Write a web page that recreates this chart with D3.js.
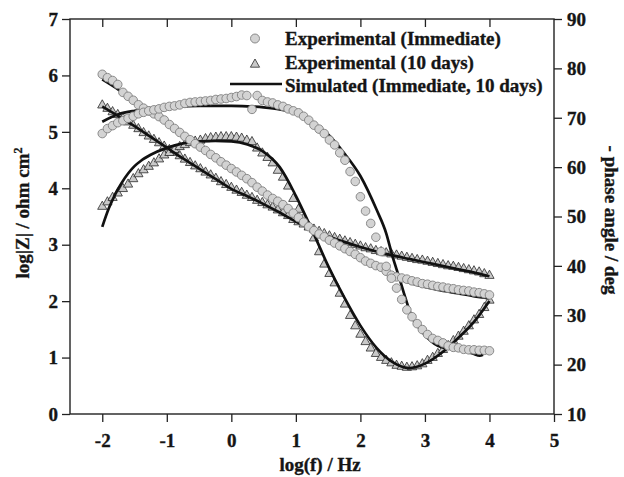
<!DOCTYPE html>
<html><head><meta charset="utf-8">
<script src="https://cdn.jsdelivr.net/npm/d3@7"></script>
<style>
body{margin:0;background:#fff}
svg{display:block}
text{font-family:"Liberation Serif","Times New Roman",serif;font-weight:bold;fill:#151515;stroke:#151515;stroke-width:0.35px}
</style>
</head><body>
<svg id="chart" width="624" height="477"></svg>
<script>
// ---- data ----
const logF = [-2.00,-1.92,-1.84,-1.76,-1.68,-1.60,-1.52,-1.44,-1.36,-1.28,-1.20,-1.12,-1.04,-0.96,-0.88,-0.80,-0.72,-0.64,-0.56,-0.48,-0.40,-0.32,-0.24,-0.16,-0.08,
  0.00,0.08,0.16,0.24,0.32,0.40,0.48,0.56,0.64,0.72,0.80,0.88,0.96,1.04,1.12,1.20,1.28,1.36,1.44,1.52,1.60,1.68,1.76,1.84,1.92,2.00,
  2.08,2.16,2.24,2.32,2.40,2.48,2.56,2.64,2.72,2.80,2.88,2.96,3.04,3.12,3.20,3.28,3.36,3.44,3.52,3.60,3.68,3.76,3.84,3.92,4.00];

// Experimental (Immediate): log|Z| and -phase (deg)
const zImmediate = [6.02,5.96,5.91,5.84,5.70,5.63,5.56,5.48,5.42,5.37,5.32,5.27,5.21,5.13,5.06,4.99,4.92,4.86,4.79,4.73,4.67,4.60,4.54,4.47,4.41,
  4.35,4.29,4.23,4.17,4.10,4.02,3.95,3.88,3.82,3.77,3.71,3.64,3.56,3.48,3.40,3.32,3.25,3.19,3.14,3.08,3.03,2.98,2.93,2.88,2.83,2.77,
  2.71,2.67,2.63,2.60,2.53,2.46,2.43,2.41,2.39,2.36,2.34,2.31,2.30,2.28,2.26,2.25,2.23,2.22,2.20,2.19,2.18,2.16,2.15,2.13,2.11];
const phaseImmediate = [66.8,67.8,68.4,69.0,69.4,69.9,70.3,70.8,71.1,71.4,71.6,71.8,72.1,72.3,72.4,72.6,72.9,73.1,73.2,73.3,73.4,73.5,73.7,73.8,73.9,
  74.1,74.3,74.6,74.5,71.7,74.5,73.5,73.2,73.0,72.6,72.3,71.8,71.4,71.0,70.3,69.5,68.5,67.7,66.8,65.5,64.5,62.9,61.4,59.1,57.1,54.0,
  51.1,48.6,45.8,42.9,39.9,37.5,35.5,33.2,31.1,29.7,28.3,27.1,26.1,25.3,24.9,24.4,23.8,23.5,23.4,23.1,23.0,23.0,22.9,22.9,22.8];

// Experimental (10 days)
const zTenDays = [5.48,5.42,5.36,5.31,5.25,5.18,5.12,5.06,4.99,4.93,4.87,4.81,4.75,4.69,4.64,4.58,4.52,4.46,4.40,4.35,4.29,4.24,4.18,4.12,4.07,
  4.02,3.97,3.93,3.88,3.84,3.79,3.75,3.71,3.67,3.62,3.57,3.52,3.45,3.41,3.37,3.33,3.28,3.24,3.20,3.16,3.13,3.10,3.07,3.04,3.01,2.98,
  2.95,2.93,2.90,2.88,2.86,2.84,2.82,2.80,2.78,2.76,2.74,2.73,2.71,2.69,2.67,2.65,2.63,2.62,2.60,2.58,2.56,2.54,2.52,2.49,2.46];
const phaseTenDays = [52.1,53.0,53.9,54.8,55.7,56.6,57.7,58.7,59.5,60.2,60.9,61.7,62.5,63.0,63.6,64.2,64.6,65.0,65.3,65.5,65.8,66.0,66.1,66.2,66.2,
  66.2,66.1,65.9,65.5,65.2,63.9,62.9,62.0,60.9,59.4,58.0,56.2,53.7,51.5,49.7,47.9,45.7,42.9,40.4,38.5,36.6,34.5,32.3,30.0,27.9,26.2,
  24.7,23.4,22.3,21.5,20.9,20.4,19.9,19.7,19.5,19.6,19.8,20.2,20.9,21.5,22.3,23.1,23.9,24.9,25.8,26.8,27.9,29.1,30.2,31.6,33.1];

// Simulated curves
const simZImmF = [-2.0,-1.75,-1.5,-1.25,-1.0,-0.75,-0.5,-0.25,0.0,0.25,0.5,0.75,1.0,1.25,1.5,1.75,2.0,2.25,2.5,2.75,3.0,3.25,3.5,3.75,4.0];
const simZImm  = [5.93,5.75,5.55,5.35,5.15,4.94,4.74,4.54,4.34,4.14,3.93,3.72,3.51,3.29,3.10,2.94,2.77,2.61,2.45,2.33,2.25,2.19,2.14,2.09,2.05];
const simPhImmF = [-2.0,-1.75,-1.5,-1.25,-1.0,-0.75,-0.5,-0.25,0.0,0.25,0.5,0.75,1.0,1.25,1.5,1.75,2.0,2.25,2.4,2.5,2.6,2.7,2.8,2.9,3.0,3.1,3.2,3.3,3.4,3.45,3.52,3.58,3.65,3.75,3.85,3.9];
const simPhImm  = [69.2,70.7,71.4,71.8,72.2,72.3,72.4,72.4,72.4,72.3,72.1,71.7,70.9,68.9,66.6,62.8,58.2,51.4,46.6,41.8,37.7,33.4,29.6,27.6,26.0,24.7,23.8,23.4,23.3,23.4,22.9,23.3,22.7,22.2,21.8,22.0];
const simZTenF = [-2.0,-1.75,-1.5,-1.25,-1.0,-0.75,-0.5,-0.25,0.0,0.25,0.5,0.75,1.0,1.25,1.5,1.75,2.0,2.25,2.5,2.75,3.0,3.25,3.5,3.75,4.0];
const simZTen  = [5.45,5.28,5.10,4.91,4.72,4.53,4.35,4.17,3.99,3.86,3.72,3.57,3.41,3.27,3.15,3.05,2.96,2.88,2.81,2.75,2.69,2.63,2.57,2.51,2.44];
const simPhTenF = [-2.0,-1.9,-1.8,-1.7,-1.6,-1.5,-1.4,-1.25,-1.0,-0.75,-0.5,-0.25,0.0,0.25,0.5,0.75,1.0,1.25,1.5,1.75,2.0,2.25,2.5,2.75,3.0,3.25,3.5,3.75,4.0];
const simPhTen  = [47.9,51.6,54.5,56.8,58.7,60.2,61.3,62.5,63.9,64.8,65.2,65.3,65.2,64.6,63.1,60.0,54.2,47.3,40.0,33.6,27.9,23.4,20.5,19.3,20.2,22.3,25.2,28.5,32.9];

const xTicks = [-2,-1,0,1,2,3,4,5];
const yTicksL = [0,1,2,3,4,5,6,7];
const yTicksR = [10,20,30,40,50,60,70,80,90];
const legendLabels = ["Experimental (Immediate)","Experimental (10 days)","Simulated (Immediate, 10 days)"];

// ---- drawing ----
const svg = d3.select("#chart");
const L=70, R=554, T=19, B=414;
const x  = d3.scaleLinear().domain([-2.5,5]).range([L,R]);
const yL = d3.scaleLinear().domain([0,7]).range([B,T]);
const yR = d3.scaleLinear().domain([10,90]).range([B,T]);
const FS = "19px";

// axes
const ax = svg.append("g").attr("transform",`translate(0,${B})`)
  .call(d3.axisBottom(x).tickValues(xTicks).tickSize(8).tickFormat(d=>String(d)));
ax.selectAll("text").attr("y",33).attr("dy",null).style("font-size",FS);
svg.append("g").attr("transform",`translate(0,${T})`)
  .call(d3.axisBottom(x).tickValues(xTicks.filter(d=>d<5)).tickSize(8).tickFormat(""));
const ayL = svg.append("g").attr("transform",`translate(${L},0)`)
  .call(d3.axisLeft(yL).tickValues(yTicksL).tickSize(8).tickPadding(4).tickFormat(d=>String(d)));
ayL.selectAll("text").attr("dy","0.33em").style("font-size",FS);
const ayR = svg.append("g").attr("transform",`translate(${R},0)`)
  .call(d3.axisRight(yR).tickValues(yTicksR).tickSize(8).tickPadding(5).tickFormat(d=>String(d)));
ayR.selectAll("text").attr("dy","0.33em").style("font-size",FS);
svg.selectAll(".domain").remove();
svg.selectAll(".tick line").attr("stroke","#222").attr("stroke-width",1.3);
svg.selectAll(".tick text").attr("fill","#151515").style("font-family",'"Liberation Serif",serif').style("font-weight","bold");
svg.append("rect").attr("x",L).attr("y",T).attr("width",R-L).attr("height",B-T)
  .attr("fill","none").attr("stroke","#222").attr("stroke-width",1.4);

// titles
svg.append("text").attr("transform","translate(320,471)").attr("text-anchor","middle").style("font-size",FS).text("log(f) / Hz");
const tl = svg.append("text").attr("transform","translate(29,213) rotate(-90)").attr("text-anchor","middle").style("font-size",FS);
tl.append("tspan").text("log|Z| / ohm cm");
tl.append("tspan").attr("dy","-0.55em").style("font-size","12px").text("2");
svg.append("text").attr("transform","translate(605,220) rotate(90)").attr("text-anchor","middle").style("font-size",FS).text("- phase angle / deg");

const plot = svg.append("g");
const triPath = "M0,-5L4.6,3.2L-4.6,3.2Z";

function drawTriangles(ys, scale){
  plot.append("g").selectAll("path").data(logF.map((f,i)=>[f,ys[i]])).join("path")
    .attr("d",triPath).attr("transform",d=>`translate(${x(d[0])},${scale(d[1])})`)
    .attr("fill","#c9c9c9").attr("stroke","#2a2a2a").attr("stroke-width",0.8);
}
function drawCircles(ys, scale){
  plot.append("g").selectAll("circle").data(logF.map((f,i)=>[f,ys[i]])).join("circle")
    .attr("cx",d=>x(d[0])).attr("cy",d=>scale(d[1])).attr("r",4.3)
    .attr("fill","#d3d3d3").attr("stroke","#808080").attr("stroke-width",0.9);
}
function drawLine(fs, ys, scale){
  plot.append("path").datum(fs.map((f,i)=>[f,ys[i]]))
    .attr("d",d3.line().x(d=>x(d[0])).y(d=>scale(d[1])).curve(d3.curveMonotoneX))
    .attr("fill","none").attr("stroke","#111").attr("stroke-width",2.7);
}

drawTriangles(zTenDays, yL);
drawTriangles(phaseTenDays, yR);
drawLine(simZTenF, simZTen, yL);
drawLine(simPhTenF, simPhTen, yR);
drawLine(simZImmF, simZImm, yL);
drawLine(simPhImmF, simPhImm, yR);
drawCircles(zImmediate, yL);
drawCircles(phaseImmediate, yR);

// legend
const lg = svg.append("g");
lg.append("circle").attr("cx",255).attr("cy",38.5).attr("r",4.5).attr("fill","#d3d3d3").attr("stroke","#808080").attr("stroke-width",0.9);
lg.append("path").attr("d",triPath).attr("transform","translate(255,64)").attr("fill","#c9c9c9").attr("stroke","#2a2a2a").attr("stroke-width",0.8);
lg.append("line").attr("x1",230).attr("x2",282).attr("y1",84).attr("y2",84).attr("stroke","#111").attr("stroke-width",2.7);
lg.selectAll("text").data(legendLabels).join("text")
  .attr("x",285).attr("y",(d,i)=>[45,69,92][i]).style("font-size",FS).text(d=>d);
</script>
</body></html>
